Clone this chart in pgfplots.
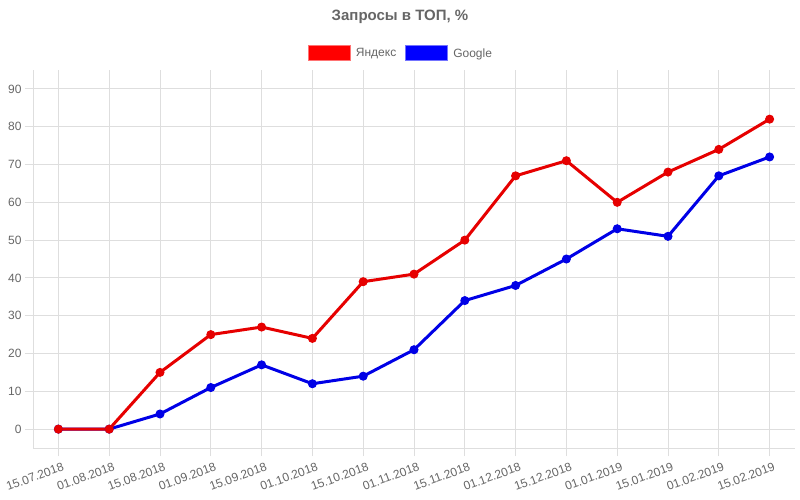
\documentclass[border=0pt]{standalone}
\usepackage{fontspec}
\setmainfont{Liberation Sans}
\usepackage{pgfplots}
\pgfplotsset{compat=1.18}
\definecolor{txt}{HTML}{666666}
\definecolor{grd}{HTML}{DEDEDE}
\definecolor{yred}{HTML}{E60000}
\definecolor{gblue}{HTML}{0000E6}
\begin{document}
\begin{tikzpicture}
\path[use as bounding box] (0,0) rectangle (800bp,-500bp);
\node[font=\fontsize{15bp}{18bp}\selectfont\bfseries, text=txt] at (400bp,-17bp) {Запросы в ТОП, \%};
\begin{axis}[
  scale only axis, width=762bp, height=378bp,
  at={(33bp,-448bp)}, anchor=south west,
  xmin=-0.5, xmax=14.5, ymin=-5, ymax=95,
  axis x line*=bottom, axis y line*=left,
  axis line style={-, grd, line width=1bp},
  grid=major, major grid style={grd, line width=1bp},
  xtick={0,...,14}, ytick={0,10,...,90},
  xticklabels={15.07.2018,01.08.2018,15.08.2018,01.09.2018,15.09.2018,01.10.2018,15.10.2018,01.11.2018,15.11.2018,01.12.2018,15.12.2018,01.01.2019,15.01.2019,01.02.2019,15.02.2019},
  tick align=outside, major tick length=8bp, tick style={grd, line width=1bp},
  ticklabel style={font=\fontsize{12bp}{14bp}\selectfont, text=txt},
  x tick label style={xshift=4bp, yshift=-5bp, rotate=20, anchor=north east, inner sep=1bp},
  /pgf/number format/assume math mode=true,
  legend columns=2,
  legend image code/.code={\draw[#1] (0bp,-7.5bp) rectangle (42bp,7.5bp);},
  legend style={at={(axis description cs:0.4816,1.0437)}, anchor=center, draw=none, fill=none,
    font=\fontsize{12bp}{14bp}\selectfont, text=txt, nodes={inner sep=0pt},
    /tikz/every odd column/.append style={column sep=5bp},
    /tikz/every even column/.append style={column sep=9bp}},
]
\addlegendimage{fill=red, draw=red!55, line width=1bp}
\addlegendentry{Яндекс}
\addlegendimage{fill=blue, draw=blue!55, line width=1bp}
\addlegendentry{Google}
\addplot[forget plot, gblue, line width=3bp, mark=*, mark size=4bp, mark options={fill=gblue, draw=gblue, line width=1bp}]
  coordinates {(0,0) (1,0) (2,4) (3,11) (4,17) (5,12) (6,14) (7,21) (8,34) (9,38) (10,45) (11,53) (12,51) (13,67) (14,72)};
\addplot[forget plot, yred, line width=3bp, mark=*, mark size=4bp, mark options={fill=yred, draw=yred, line width=1bp}]
  coordinates {(0,0) (1,0) (2,15) (3,25) (4,27) (5,24) (6,39) (7,41) (8,50) (9,67) (10,71) (11,60) (12,68) (13,74) (14,82)};
\end{axis}
\end{tikzpicture}
\end{document}
